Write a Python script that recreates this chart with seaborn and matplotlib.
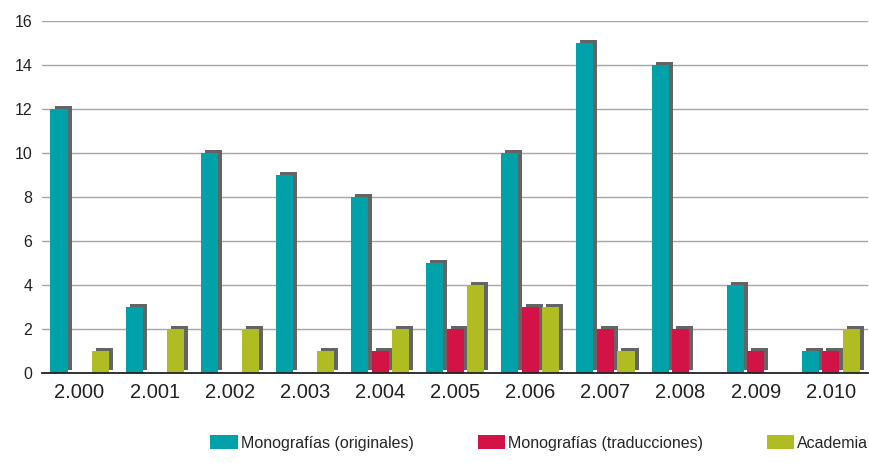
import matplotlib
matplotlib.use('Agg')
import matplotlib.pyplot as plt
import matplotlib.patheffects as pe
from matplotlib.patches import Patch
from matplotlib.ticker import FixedLocator
from matplotlib import font_manager
import pandas as pd
import seaborn as sns

years = ["2.000", "2.001", "2.002", "2.003", "2.004", "2.005",
         "2.006", "2.007", "2.008", "2.009", "2.010"]
originales = [12, 3, 10, 9, 8, 5, 10, 15, 14, 4, 1]
traducciones = [0, 0, 0, 0, 1, 2, 3, 2, 2, 1, 1]
academia = [1, 2, 2, 1, 2, 4, 3, 1, 0, 0, 2]

series_names = ["Monografías (originales)", "Monografías (traducciones)", "Academia"]
colors = ["#00A1A9", "#D31245", "#AFBD22"]

df = pd.DataFrame({"year": years, series_names[0]: originales,
                   series_names[1]: traducciones, series_names[2]: academia})
long_df = df.melt(id_vars="year", var_name="serie", value_name="valor")

sns.set_style("white")
plt.rcParams['font.family'] = ['Liberation Sans', 'DejaVu Sans']

installed = {f.name for f in font_manager.fontManager.ttflist}
narrow = "Liberation Sans Narrow" in installed

fig = plt.figure(figsize=(8.69, 4.63), dpi=100)
ax = fig.add_axes([0.0483, 0.194, 0.951, 0.7606])

sns.barplot(data=long_df, x="year", y="valor", hue="serie", hue_order=series_names,
            palette=colors, width=0.82, saturation=1, ax=ax, legend=False)

# narrower bars + grey drop shadow
shadow = [pe.SimplePatchShadow(offset=(2.9, 2.2), shadow_rgbFace="#646464", alpha=1.0), pe.Normal()]
for cont in ax.containers:
    for p in cont:
        h = p.get_height()
        if h == 0:
            p.set_visible(False)
            continue
        cx = p.get_x() + p.get_width() / 2
        w = 0.227
        p.set_x(cx - w / 2)
        p.set_width(w)
        p.set_linewidth(0)
        p.set_path_effects(shadow)

ax.set_ylim(0, 16)
ax.set_xlim(-0.5, len(years) - 0.5)
ax.set_yticks(range(0, 17, 2))
ax.yaxis.grid(True, color="#A6A6A6", linewidth=1)
ax.set_axisbelow(True)
ax.set_xlabel("")
ax.set_ylabel("")

for s in ["top", "right", "left"]:
    ax.spines[s].set_visible(False)
ax.spines["bottom"].set_color("#222222")
ax.spines["bottom"].set_linewidth(1.3)

ax.tick_params(axis="y", length=0, labelsize=11.5, colors="#222222", pad=7)
ax.tick_params(axis="x", which="major", length=0, labelsize=14.5, colors="#222222", pad=7)
ax.xaxis.set_minor_locator(FixedLocator([i - 0.5 for i in range(len(years) + 1)]))
ax.tick_params(axis="x", which="minor", length=7, width=1.3, color="#222222", direction="out")

handles = [Patch(facecolor=c, edgecolor="none") for c in colors]
if narrow:
    leg_prop = {"family": "Liberation Sans Narrow", "size": 12.5}
    colsp = 2.4
else:
    leg_prop = {"family": "Liberation Sans", "size": 11.5}
    colsp = 4.0
ax.legend(handles, series_names, ncol=3, loc="center right", bbox_to_anchor=(0.999, 0.043),
          bbox_transform=fig.transFigure, frameon=False, prop=leg_prop,
          handlelength=1.7, handleheight=0.95, handletextpad=0.2, columnspacing=colsp,
          borderaxespad=0, borderpad=0)

fig.savefig("out.png", dpi=100)
